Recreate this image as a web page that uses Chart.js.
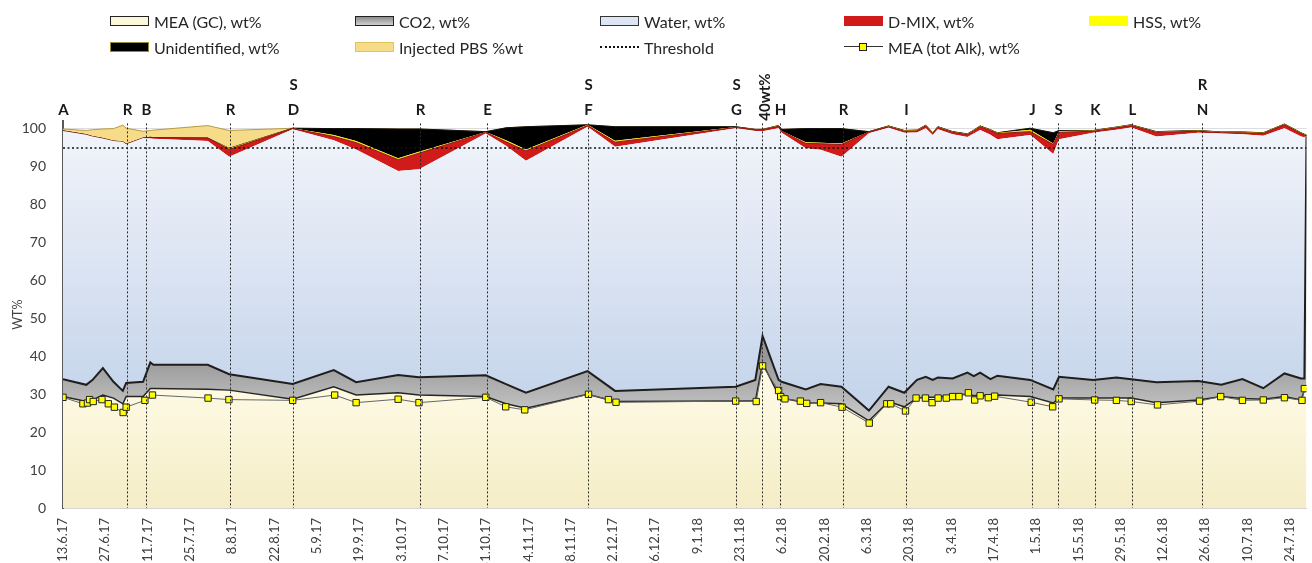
<!DOCTYPE html>
<html>
<head>
<meta charset="utf-8">
<script src="https://cdn.jsdelivr.net/npm/chart.js@4.4.1/dist/chart.umd.min.js"></script>
<style>
  html, body { margin: 0; padding: 0; background: #fff; overflow: hidden; }
  #wrap { position: relative; width: 1312px; height: 563px; overflow: hidden; }
  #chart { position: absolute; left: 0; top: 0; }
  .leg { position: absolute; height: 20px; display: flex; align-items: center; font: 16px Lato, sans-serif; color: #262626; white-space: nowrap; }
  .sw { width: 39px; height: 10px; margin-right: 5px; box-sizing: border-box; }
  .sw.mea { background: #fbf7d8; border: 1px solid #222; }
  .sw.co2 { background: linear-gradient(#8c8c8c, #cfcfcf); border: 1px solid #222; }
  .sw.water { background: #dce5f2; border: 1px solid #333; }
  .sw.dmix { background: #d11b1b; }
  .sw.hss { background: #ffff00; }
  .sw.unid { background: #000; border: 1px solid #9a8a30; }
  .sw.pbs { background: #f6dc88; border: 1px solid #e2c45e; }
  .sw.thr { height: 0; border-top: 2px dotted #111; }
  .sw.alk { height: 10px; position: relative; }
  .sw.alk:before { content: ""; position: absolute; left: 0; right: 0; top: 4px; border-top: 1px solid #333; }
  .sw.alk:after { content: ""; position: absolute; left: 15px; top: 1px; width: 8px; height: 8px; box-sizing: border-box; background: #ffff00; border: 1px solid #222; }
</style>
</head>
<body>
<div id="wrap">
  <canvas id="chart" width="1312" height="600"></canvas>
  <div class="leg" style="left:110px;top:11px"><span class="sw mea"></span>MEA (GC), wt%</div>
  <div class="leg" style="left:355px;top:11px"><span class="sw co2"></span>CO2, wt%</div>
  <div class="leg" style="left:600px;top:11px"><span class="sw water"></span>Water, wt%</div>
  <div class="leg" style="left:844px;top:11px"><span class="sw dmix"></span>D-MIX, wt%</div>
  <div class="leg" style="left:1089px;top:11px"><span class="sw hss"></span>HSS, wt%</div>
  <div class="leg" style="left:110px;top:37px"><span class="sw unid"></span>Unidentified, wt%</div>
  <div class="leg" style="left:355px;top:37px"><span class="sw pbs"></span>Injected PBS %wt</div>
  <div class="leg" style="left:600px;top:37px"><span class="sw thr"></span>Threshold</div>
  <div class="leg" style="left:844px;top:37px"><span class="sw alk"></span>MEA (tot Alk), wt%</div>
</div>
<script>
// sample days, counted from 13.6.2017
const START = new Date(2017, 5, 13);
const sampleDays = [0, 7.7, 9.8, 13.2, 16.7, 19.8, 20.9, 26.5, 28.9, 29.9,
  47.9, 55, 76, 89.6, 97, 110.9, 117.8, 139.9, 146.6, 153.2,
  173.6, 182.7, 222.6, 229.1, 231.5, 236.8, 237.8, 245.8, 250.7, 257.6,
  266.7, 273.2, 278.4, 282.6, 285.5, 287.8, 289.5, 294.4, 299.3, 301.4,
  303.5, 306.9, 309.2, 320.1, 327.7, 329.6, 340.9, 348.6, 353.5, 361.8,
  375.7, 383.3, 390.3, 397.2, 404.2, 409.7, 410.8, 411.5];

// stacked components, wt%
const meaGC = [29.4, 28.1, 28.5, 29.8, 29.0, 27.5, 29.4, 29.4, 31.5, 31.5,
  31.3, 31.1, 28.7, 32.0, 29.8, 30.4, 29.8, 29.4, 27.5, 26.3,
  30.0, 28.1, 28.2, 28.2, 38.2, 29.8, 29.0, 27.8, 27.7, 27.5,
  23.0, 28.1, 26.7, 29.0, 29.2, 29.2, 29.3, 29.6, 30.1, 29.6,
  29.8, 29.6, 29.8, 29.4, 27.7, 29.0, 29.0, 29.0, 29.0, 27.8,
  28.5, 29.4, 28.9, 28.7, 29.4, 28.5, 31.0, 31.5];
const co2 = [4.6, 4.4, 5.3, 7.1, 4.3, 3.4, 3.6, 3.9, 6.9, 6.3,
  6.5, 4.2, 4.0, 4.4, 3.4, 4.7, 4.7, 5.6, 5.2, 4.1,
  6.1, 2.8, 3.8, 5.6, 7.2, 4.0, 4.3, 3.5, 5.0, 4.5,
  2.7, 3.9, 3.7, 4.8, 5.4, 4.6, 5.1, 4.6, 5.6, 5.2,
  5.9, 4.4, 5.1, 4.4, 3.6, 5.6, 4.8, 5.4, 5.0, 5.4,
  5.0, 3.1, 5.1, 2.9, 6.1, 5.7, 3.2, 66.9];
const water = [65.5, 66.0, 64.2, 60.6, 63.5, 65.7, 63.0, 64.3, 59.1, 59.6,
  59.0, 57.4, 67.2, 60.6, 61.4, 53.8, 54.9, 63.8, 62.9, 61.2,
  64.5, 64.4, 68.2, 65.7, 54.0, 66.4, 65.7, 63.6, 61.8, 60.7,
  73.2, 68.3, 68.6, 65.3, 65.6, 64.6, 65.5, 64.4, 62.2, 64.0,
  64.0, 64.5, 62.4, 64.6, 62.1, 62.7, 65.2, 65.4, 66.4, 64.8,
  65.5, 66.3, 64.6, 66.6, 64.7, 63.8, 63.6, 0];
const dmix = [0, 0, 0, 0, 0, 0, 0, 0, 0.3, 0.3,
  0.8, 1.9, 0.2, 1.0, 1.8, 3.0, 4.2, 0.3, 1.0, 2.6,
  0.3, 1.2, 0.2, 0.3, 0.4, 0.5, 0.4, 1.3, 1.6, 3.2,
  0.3, 0.3, 0.4, 0.4, 0.6, 0.4, 0.5, 0.5, 0.6, 0.7,
  0.9, 1.1, 1.5, 0.9, 2.5, 1.8, 0.4, 0.5, 0.5, 1.1,
  0.4, 0.2, 0.4, 0.6, 0.9, 0.8, 0.6, 0];
const hss = [0, 0, 0, 0, 0, 0, 0, 0, 0, 0,
  0, 0.3, 0.1, 0.4, 0.4, 0.4, 0.4, 0.1, 0.4, 0.4,
  0.2, 0.4, 0.1, 0.1, 0.1, 0.2, 0.1, 0.3, 0.3, 0.3,
  0.1, 0.2, 0.2, 0.2, 0.2, 0.2, 0.2, 0.2, 0.2, 0.2,
  0.2, 0.2, 0.2, 0.5, 0.3, 0.4, 0.2, 0.2, 0.2, 0.2,
  0.2, 0.2, 0.2, 0.2, 0.2, 0.2, 0.2, 0];
const unidentified = [0, 0, 0, 0, 0, 0, 0, 0, 0, 0,
  0, 0, 0, 1.7, 3.3, 7.7, 6.0, 0.1, 3.3, 6.0,
  0, 3.7, 0.1, 0, 0, 0, 0.4, 3.6, 3.7, 3.9,
  0, 0, 0, 0, 0, 0, 0, 0, 0, 0,
  0, 0, 0, 0.4, 2.8, 0.1, 0, 0, 0, 0,
  0, 0, 0, 0, 0, 0, 0, 0];
const injectedPBS = [0.5, 1.1, 1.8, 2.5, 3.3, 4.4, 4.2, 1.8, 1.8, 2.0,
  3.3, 4.7, 0, 0, 0, 0, 0, 0, 0, 0,
  0, 0, 0, 0, 0, 0, 0, 0, 0, 0,
  0, 0, 0, 0, 0, 0, 0, 0, 0, 0,
  0, 0, 0, 0, 0, 0, 0, 0, 0, 0,
  0, 0, 0, 0, 0, 0, 0, 0];

// MEA by total alkalinity titration
const alkDays = [0, 6.6, 8.1, 8.8, 10.0, 12.9, 15.0, 17.0, 19.9, 20.9, 27.1, 29.6,
  48.0, 54.9, 76.0, 89.9, 97.0, 110.9, 117.8, 139.9, 146.5, 152.8, 173.9, 180.5, 183.0,
  222.6, 229.4, 231.5, 236.8, 237.5, 238.9, 244.0, 246.1, 250.7, 257.8, 266.8, 272.6, 273.9,
  278.8, 282.3, 285.4, 287.6, 289.6, 292.3, 294.4, 296.5, 299.6, 301.7, 303.5, 306.2, 308.3,
  320.4, 327.5, 329.6, 341.4, 348.6, 353.5, 362.2, 376.1, 383.1, 390.3, 397.2, 404.2, 410.0, 410.8];
const meaTotAlk = [29.2, 27.5, 27.7, 28.6, 28.1, 28.6, 27.5, 26.6, 25.2, 26.6, 28.4, 29.8,
  29.0, 28.6, 28.4, 29.8, 27.8, 28.7, 27.8, 29.2, 26.7, 25.9, 30.0, 28.6, 27.9,
  28.2, 28.1, 37.5, 31.0, 29.4, 28.8, 28.2, 27.6, 27.8, 26.6, 22.4, 27.5, 27.5,
  25.6, 29.0, 29.0, 27.8, 29.0, 29.0, 29.4, 29.4, 30.4, 28.5, 29.6, 29.1, 29.5,
  27.9, 26.7, 28.8, 28.5, 28.4, 28.1, 27.2, 28.2, 29.4, 28.4, 28.5, 29.1, 28.4, 31.5];

const threshold = 95;
const yTicks = [0, 10, 20, 30, 40, 50, 60, 70, 80, 90, 100];
const xTickDays = [0, 14, 28, 42, 56, 70, 84, 98, 112, 126, 140, 154, 168, 182, 196, 210,
  224, 238, 252, 266, 280, 294, 308, 322, 336, 350, 364, 378, 392, 406];

// campaign events (dashed lines + letters)
const eventDays = [0, 21.1, 27.4, 55.4, 76.2, 118.2, 140.3, 173.6, 222.8, 231.4,
  237.2, 258.1, 278.9, 320.8, 329.4, 341.6, 353.8, 376.9];
const eventUpper = ["", "", "", "", "S", "", "", "S", "S", "", "", "", "", "", "", "", "", "R"];
const eventLower = ["A", "R", "B", "R", "D", "R", "E", "F", "G", "40wt%", "H", "R", "I", "J", "S", "K", "L", "N"];

function dayLabel(d) {
  const dt = new Date(START.getTime() + d * 86400000);
  return dt.getDate() + "." + (dt.getMonth() + 1) + "." + String(dt.getFullYear()).slice(2);
}

const pts = arr => sampleDays.map((d, i) => ({ x: d, y: arr[i] }));

const vGrad = (vTop, vBottom, cTop, cBottom) => context => {
  const chart = context.chart;
  if (!chart.chartArea) return cBottom;
  const y = chart.scales.y;
  const g = chart.ctx.createLinearGradient(0, y.getPixelForValue(vTop), 0, y.getPixelForValue(vBottom));
  g.addColorStop(0, cTop);
  g.addColorStop(1, cBottom);
  return g;
};

const areaBase = { pointRadius: 0, tension: 0, stack: "comp", fill: "-1" };

const eventsPlugin = {
  id: "events",
  afterDatasetsDraw(chart) {
    const { ctx, chartArea, scales: { x } } = chart;
    ctx.save();
    eventDays.forEach((d, i) => {
      const px = Math.round(x.getPixelForValue(d)) + 0.5;
      if (d > 0) {
        ctx.strokeStyle = "#2a2a2a";
        ctx.lineWidth = 1;
        ctx.setLineDash([2, 2]);
        ctx.beginPath();
        ctx.moveTo(px, chartArea.top + 2);
        ctx.lineTo(px, chartArea.bottom);
        ctx.stroke();
      }
      ctx.fillStyle = "#1a1a1a";
      ctx.font = "bold 15px Lato, sans-serif";
      ctx.textAlign = "center";
      ctx.textBaseline = "middle";
      if (eventUpper[i]) ctx.fillText(eventUpper[i], px, 85);
      const lab = eventLower[i];
      if (lab.length > 1) {
        ctx.save();
        ctx.translate(px + 3, 97);
        ctx.rotate(-Math.PI / 2);
        ctx.fillText(lab, 0, 0);
        ctx.restore();
      } else {
        ctx.fillText(lab, px, 110);
      }
    });
    ctx.restore();
  }
};

new Chart(document.getElementById("chart"), {
  type: "line",
  data: {
    datasets: [
      { ...areaBase, label: "MEA (GC), wt%", data: pts(meaGC), fill: "origin",
        backgroundColor: vGrad(30, 0, "#fdf9e2", "#f5edc6"), borderColor: "#262626", borderWidth: 1.5 },
      { ...areaBase, label: "CO2, wt%", data: pts(co2),
        backgroundColor: vGrad(40, 26, "#979797", "#c2c2c2"), borderColor: "#1e1e1e", borderWidth: 2 },
      { ...areaBase, label: "Water, wt%", data: pts(water),
        backgroundColor: vGrad(100, 30, "#f1f4fa", "#c6d5eb"), borderColor: "rgba(0,0,0,0)", borderWidth: 0 },
      { ...areaBase, label: "D-MIX, wt%", data: pts(dmix),
        backgroundColor: "#d11b1b", borderColor: "#8e1414", borderWidth: 1 },
      { ...areaBase, label: "HSS, wt%", data: pts(hss),
        backgroundColor: "#f5e400", borderColor: "rgba(0,0,0,0)", borderWidth: 0 },
      { ...areaBase, label: "Unidentified, wt%", data: pts(unidentified),
        backgroundColor: "#000000", borderColor: "#111", borderWidth: 1 },
      { ...areaBase, label: "Injected PBS %wt", data: pts(injectedPBS),
        backgroundColor: "#f6dc88", borderColor: "#b89a4a", borderWidth: 1 },
      { label: "Threshold", stack: "thr", order: -1, data: [{ x: 0, y: threshold }, { x: 411.5, y: threshold }],
        borderColor: "#111", borderWidth: 1.5, borderDash: [2, 2.5], pointRadius: 0, fill: false },
      { label: "MEA (tot Alk), wt%", stack: "alk", order: -2,
        data: alkDays.map((d, i) => ({ x: d, y: meaTotAlk[i] })),
        borderColor: "#666", borderWidth: 1, fill: false, tension: 0,
        pointStyle: "rect", pointRadius: 4.5, pointBackgroundColor: "#ffff00",
        pointBorderColor: "#222", pointBorderWidth: 1 }
    ]
  },
  options: {
    responsive: false,
    animation: false,
    events: [],
    layout: { padding: { top: 121.4, right: 2, left: 0, bottom: 0 } },
    plugins: { legend: { display: false }, tooltip: { enabled: false } },
    scales: {
      x: {
        type: "linear", min: 0, max: 411.5,
        afterBuildTicks: axis => { axis.ticks = xTickDays.map(v => ({ value: v })); },
        afterFit: axis => { axis.height = 92; axis.paddingLeft = 0; axis.paddingRight = 0; },
        grid: { display: false, drawTicks: false },
        border: { color: "#d4d4d4", width: 1 },
        ticks: { callback: v => dayLabel(v), minRotation: 90, maxRotation: 90, autoSkip: false,
          padding: 10, color: "#404040", font: { family: "Lato", size: 13 } }
      },
      y: {
        stacked: true, min: 0, max: 102, z: 1,
        afterBuildTicks: axis => { axis.ticks = yTicks.map(v => ({ value: v })); },
        afterFit: axis => { axis.width = 63; axis.paddingTop = 0; axis.paddingBottom = 0; },
        grid: { color: "rgba(90,100,120,0.22)", drawTicks: false },
        border: { color: "#595959", width: 2 },
        ticks: { padding: 17, color: "#404040", font: { family: "Lato", size: 14 } },
        title: { display: true, text: "WT%", color: "#404040", font: { family: "Lato", size: 12.5 }, padding: { top: 10, bottom: 0 } }
      }
    }
  },
  plugins: [eventsPlugin]
});
</script>
</body>
</html>
